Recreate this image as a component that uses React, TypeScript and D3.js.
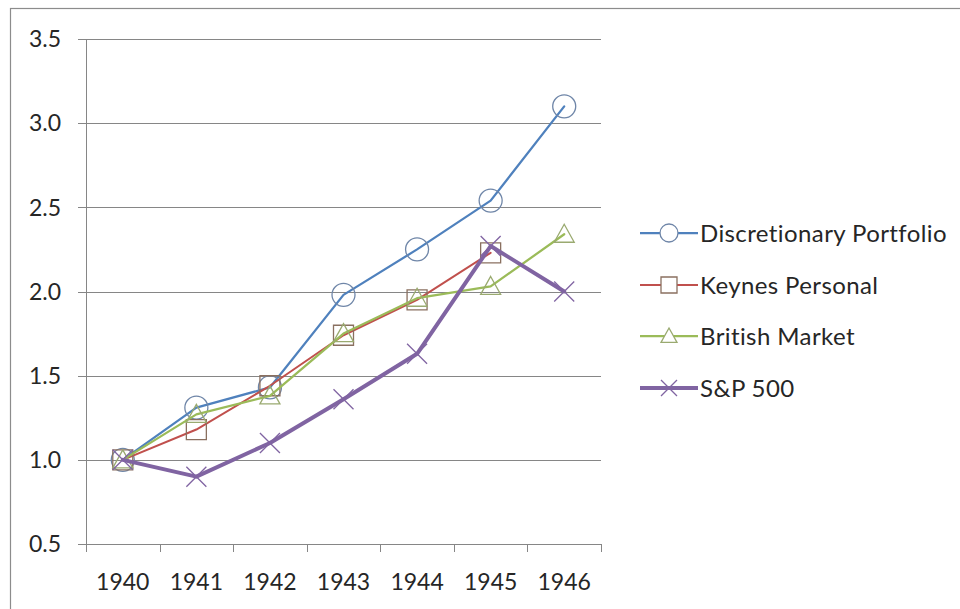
import React, { useEffect, useRef } from "react";
import * as d3 from "d3";

const years = ["1940", "1941", "1942", "1943", "1944", "1945", "1946"];
const discretionary = [1.0, 1.31, 1.43, 1.98, 2.25, 2.54, 3.1];
const keynesPersonal = [1.0, 1.18, 1.44, 1.74, 1.95, 2.23, null];
const britishMarket = [1.0, 1.27, 1.38, 1.75, 1.96, 2.03, 2.34];
const sp500 = [1.0, 0.9, 1.1, 1.36, 1.63, 2.27, 2.0];
const yTicks = [0.5, 1.0, 1.5, 2.0, 2.5, 3.0, 3.5];

const seriesNames = ["Discretionary Portfolio", "Keynes Personal", "British Market", "S&P 500"];
const seriesColors = ["#4F81BD", "#C0504D", "#9BBB59", "#8064A2"];
const markerColors = ["#6f86a8", "#8a7060", "#9aaa70", "#8064A2"];
const markerShapes = ["circle", "square", "triangle", "x"];
const lineWidths = [2.25, 2, 2.25, 4];

const FONT = "Lato, 'Open Sans', sans-serif";

function markerPath(shape: string, s: number): string {
  if (shape === "circle") {
    return d3.symbol(d3.symbolCircle, Math.PI * s * s)() as string;
  }
  if (shape === "square") {
    return `M${-s},${-s}H${s}V${s}H${-s}Z`;
  }
  if (shape === "triangle") {
    return `M0,${-s}L${s},${s * 0.8}L${-s},${s * 0.8}Z`;
  }
  return `M${-s},${-s}L${s},${s}M${s},${-s}L${-s},${s}`;
}

export default function App() {
  const ref = useRef<SVGSVGElement>(null);

  useEffect(() => {
    const svg = d3.select(ref.current);
    svg.selectAll("*").remove();

    const left = 86, right = 601, top = 39, bottom = 544;
    const x = d3.scaleBand<string>().domain(years).range([left, right]);
    const y = d3.scaleLinear().domain([0.5, 3.5]).range([bottom, top]);
    const axisColor = "#868686";
    const textColor = "#262626";

    svg.append("rect").attr("width", 960).attr("height", 609).attr("fill", "#fff");
    svg.append("rect")
      .attr("x", 10.5).attr("y", 8.5).attr("width", 1000).attr("height", 1000)
      .attr("fill", "none").attr("stroke", "#8c8c8c").attr("stroke-width", 1.2);

    // gridlines
    svg.append("g").selectAll("line").data(yTicks).join("line")
      .attr("x1", left - 8).attr("x2", right)
      .attr("y1", (d) => Math.round(y(d)) + 0.5).attr("y2", (d) => Math.round(y(d)) + 0.5)
      .attr("stroke", axisColor).attr("stroke-width", 1);

    // y axis line
    svg.append("line").attr("x1", left + 0.5).attr("x2", left + 0.5)
      .attr("y1", top).attr("y2", bottom).attr("stroke", axisColor);

    // x ticks
    const xEdges = years.map((d) => x(d) as number).concat([right]);
    svg.append("g").selectAll("line").data(xEdges).join("line")
      .attr("x1", (d) => Math.round(d) + 0.5).attr("x2", (d) => Math.round(d) + 0.5)
      .attr("y1", bottom).attr("y2", bottom + 8).attr("stroke", axisColor);

    // y labels
    svg.append("g").selectAll("text").data(yTicks).join("text")
      .attr("x", 61).attr("y", (d) => y(d)).attr("dy", "0.36em")
      .attr("text-anchor", "end").attr("font-family", FONT).attr("font-size", 23)
      .attr("fill", textColor).text((d) => d.toFixed(1));

    // x labels
    svg.append("g").selectAll("text").data(years).join("text")
      .attr("x", (d) => (x(d) as number) + x.bandwidth() / 2).attr("y", 590)
      .attr("text-anchor", "middle").attr("font-family", FONT).attr("font-size", 23)
      .attr("fill", textColor).text((d) => d);

    const allSeries = [discretionary, keynesPersonal, britishMarket, sp500];
    const cx = (i: number) => (x(years[i]) as number) + x.bandwidth() / 2;

    allSeries.forEach((vals, si) => {
      const pts = vals.map((v, i) => ({ i, v })).filter((p) => p.v !== null) as { i: number; v: number }[];
      const line = d3.line<{ i: number; v: number }>()
        .x((p) => cx(p.i)).y((p) => y(p.v));
      svg.append("path").datum(pts).attr("d", line)
        .attr("fill", "none").attr("stroke", seriesColors[si])
        .attr("stroke-width", lineWidths[si]).attr("stroke-linejoin", "round").attr("stroke-linecap", "round");
      const shape = markerShapes[si];
      const size = shape === "circle" ? 11.5 : 10;
      svg.append("g").selectAll("path").data(pts).join("path")
        .attr("transform", (p) => `translate(${cx(p.i)},${y(p.v)})`)
        .attr("d", markerPath(shape, size))
        .attr("fill", "none").attr("stroke", markerColors[si]).attr("stroke-width", 1.3);
    });

    // legend
    const lg = svg.append("g");
    const legendY = [233, 285, 336, 388];
    seriesNames.forEach((name, si) => {
      const ly = legendY[si];
      lg.append("line").attr("x1", 640).attr("x2", 698).attr("y1", ly).attr("y2", ly)
        .attr("stroke", seriesColors[si]).attr("stroke-width", lineWidths[si]);
      const shape = markerShapes[si];
      lg.append("path").attr("transform", `translate(669,${ly})`)
        .attr("d", markerPath(shape, shape === "circle" ? 9 : 8))
        .attr("fill", shape === "x" ? "none" : "#fff").attr("stroke", markerColors[si]).attr("stroke-width", 1.3);
      lg.append("text").attr("x", 700).attr("y", ly).attr("dy", "0.36em")
        .attr("font-family", FONT).attr("font-size", 24).attr("letter-spacing", 0.4)
        .attr("fill", textColor).text(name);
    });
  }, []);

  return (
    <svg ref={ref} width={960} height={609} style={{ position: "absolute", left: 0, top: 0 }} />
  );
}
